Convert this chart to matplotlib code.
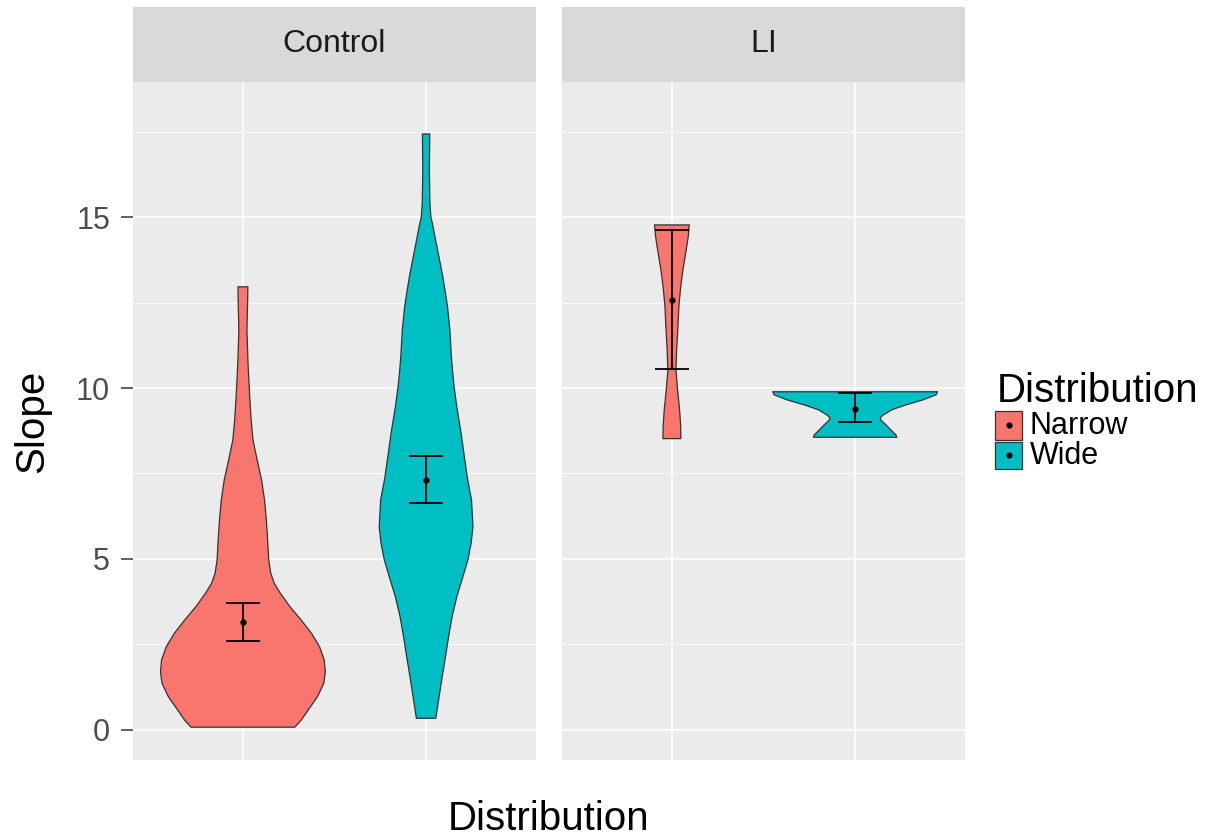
import numpy as np
import matplotlib
matplotlib.use("Agg")
import matplotlib.pyplot as plt
from matplotlib.patches import Rectangle

plt.rcParams['font.family'] = ['Liberation Sans', 'DejaVu Sans']

# DATA
panels = ["Control", "LI"]
groups = ["Narrow", "Wide"]
colors = {"Narrow": "#F8766D", "Wide": "#00BFC4"}

# violin outlines: slope value and half width (x units)
ctrl_narrow_y = [0.08, 0.29, 0.58, 0.97, 1.37, 1.70, 2.05, 2.44, 2.83, 3.22, 3.61, 4.00, 4.29, 4.58,
                 4.97, 5.56, 6.14, 6.73, 7.31, 7.89, 8.48, 9.06, 9.75, 10.72, 11.70, 12.57, 12.96]
ctrl_narrow_hw = [0.283, 0.319, 0.356, 0.407, 0.442, 0.450, 0.444, 0.418, 0.374, 0.317, 0.256, 0.204, 0.171, 0.152,
                  0.141, 0.135, 0.128, 0.118, 0.102, 0.078, 0.055, 0.045, 0.037, 0.028, 0.022, 0.026, 0.027]

ctrl_wide_y = [0.34, 0.97, 1.56, 2.14, 2.73, 3.31, 3.90, 4.48, 4.97, 5.46, 5.94, 6.73, 7.35, 8.03,
               8.72, 9.40, 10.08, 10.53, 10.92, 11.70, 12.38, 12.87, 13.35, 13.84, 14.33, 14.72,
               15.01, 15.40, 16.37, 17.43]
ctrl_wide_hw = [0.053, 0.071, 0.088, 0.106, 0.123, 0.142, 0.168, 0.201, 0.228, 0.246, 0.256, 0.248, 0.226, 0.208,
                0.190, 0.169, 0.152, 0.144, 0.138, 0.130, 0.117, 0.103, 0.088, 0.070, 0.052, 0.038,
                0.026, 0.021, 0.018, 0.020]

li_narrow_y = [8.52, 8.87, 9.36, 9.94, 10.53, 11.11, 11.79, 12.38, 12.96, 13.45, 13.94, 14.42, 14.77]
li_narrow_hw = [0.049, 0.048, 0.042, 0.031, 0.022, 0.026, 0.033, 0.038, 0.048, 0.060, 0.075, 0.089, 0.095]

li_wide_y = [8.56, 8.63, 8.77, 8.92, 9.06, 9.13, 9.21, 9.36, 9.50, 9.65, 9.80, 9.89]
li_wide_hw = [0.228, 0.223, 0.196, 0.169, 0.141, 0.138, 0.153, 0.199, 0.274, 0.369, 0.442, 0.450]

# means with lower / upper error bar
means = {"Control": [3.15, 7.31], "LI": [12.56, 9.40]}
err_lo = {"Control": [2.61, 6.65], "LI": [10.56, 9.01]}
err_hi = {"Control": [3.72, 8.01], "LI": [14.62, 9.84]}

violins = {
    "Control": [(ctrl_narrow_y, ctrl_narrow_hw), (ctrl_wide_y, ctrl_wide_hw)],
    "LI": [(li_narrow_y, li_narrow_hw), (li_wide_y, li_wide_hw)],
}

# FIGURE
W, H = 1211, 838
fig = plt.figure(figsize=(W / 100, H / 100), dpi=100)


def frac(x0, y0, x1, y1):
    return [x0 / W, 1 - y1 / H, (x1 - x0) / W, (y1 - y0) / H]


panel_x = [(133, 536), (562, 965)]
axes = []
for i, name in enumerate(panels):
    x0, x1 = panel_x[i]
    ax = fig.add_axes(frac(x0, 82, x1, 760))
    ax.set_facecolor("#EBEBEB")
    for s in ax.spines.values():
        s.set_visible(False)
    ax.set_xlim(0.4, 2.6)
    ax.set_ylim(-0.88, 18.95)
    ax.set_yticks([0, 5, 10, 15])
    ax.set_yticks([2.5, 7.5, 12.5, 17.5], minor=True)
    ax.set_xticks([1, 2])
    ax.grid(which="major", color="white", lw=1.1)
    ax.grid(which="minor", axis="y", color="white", lw=0.55)
    ax.set_axisbelow(True)
    ax.tick_params(axis="x", length=0, labelbottom=False)
    ax.tick_params(axis="y", which="minor", length=0)
    if i == 0:
        ax.tick_params(axis="y", which="major", length=8.5, width=1.1, color="#333333",
                       labelsize=22, labelcolor="#4D4D4D", pad=8)
    else:
        ax.tick_params(axis="y", which="major", length=0, labelleft=False)

    for j, g in enumerate(groups):
        yv = np.array(violins[name][j][0])
        hw = np.array(violins[name][j][1])
        xc = j + 1
        xs = np.concatenate([xc - hw, (xc + hw)[::-1]])
        ys = np.concatenate([yv, yv[::-1]])
        ax.fill(xs, ys, facecolor=colors[g], edgecolor="#333333", lw=0.9, joinstyle="round", zorder=2)
        m = means[name][j]
        ax.errorbar([xc], [m], yerr=[[m - err_lo[name][j]], [err_hi[name][j] - m]],
                    fmt="o", color="black", ms=3.5, elinewidth=1.3, capsize=12.5, capthick=1.3, zorder=3)

    # strip
    sax = fig.add_axes(frac(x0, 7, x1, 82))
    sax.set_facecolor("#D9D9D9")
    sax.set_xticks([])
    sax.set_yticks([])
    for s in sax.spines.values():
        s.set_visible(False)
    sax.text(0.5, 0.5, name, ha="center", va="center", fontsize=23, color="#1A1A1A",
             transform=sax.transAxes)
    axes.append(ax)

# axis titles
fig.text(549 / W, 1 - 830 / H, "Distribution", ha="center", va="baseline", fontsize=29)
fig.text(32 / W, 1 - 421 / H, "Slope", ha="center", va="center", rotation=90, fontsize=29)

# legend
fig.text(997 / W, 1 - 402 / H, "Distribution", ha="left", va="baseline", fontsize=29)
key_y = [(411, 440), (442, 469)]
for k, g in enumerate(groups):
    ky0, ky1 = key_y[k]
    fig.add_artist(Rectangle((995 / W, 1 - ky1 / H), 27 / W, (ky1 - ky0) / H,
                             transform=fig.transFigure, facecolor=colors[g],
                             edgecolor="#333333", lw=0.9))
    fig.add_artist(plt.Line2D([1008.5 / W], [1 - (ky0 + ky1) / 2 / H], marker="o", ms=3.5,
                              color="black", transform=fig.transFigure))
    fig.text(1030 / W, 1 - (ky0 + ky1) / 2 / H, g, ha="left", va="center", fontsize=22)

fig.savefig("out.png", dpi=100)
